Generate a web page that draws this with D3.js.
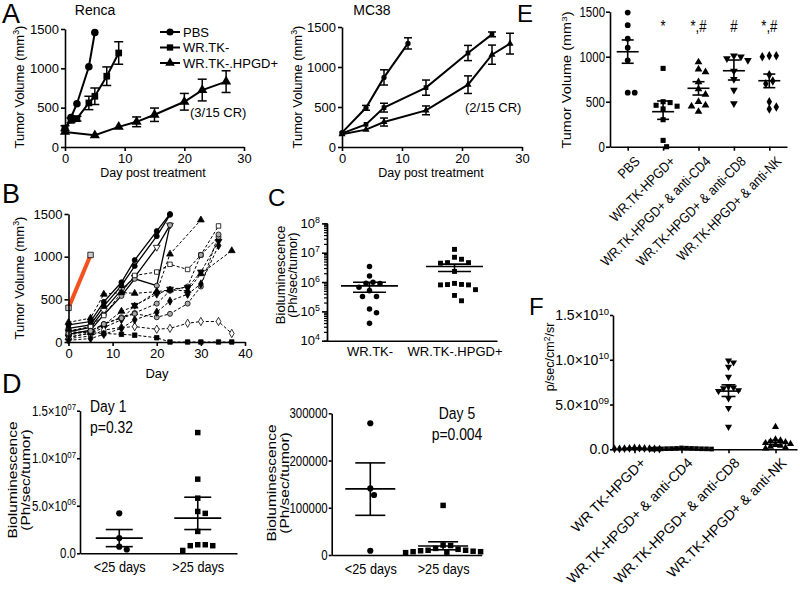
<!DOCTYPE html>
<html><head><meta charset="utf-8">
<script src="https://cdn.jsdelivr.net/npm/d3@7"></script>
<style>
body{margin:0;background:#fff;}
svg{display:block;}
</style></head><body>
<svg id="chart" width="800" height="589"></svg>
<script>
// ================= DATA =================
// Panel A – Renca
const rencaPBSDays = [0, 1, 2, 4, 5];
const rencaPBSVol  = [220, 375, 550, 1020, 1455];
const rencaPBSErr  = [0, 0, 0, 0, 0];
const rencaTKDays  = [0, 1, 2, 4, 5, 7, 9];
const rencaTKVol   = [240, 340, 360, 560, 645, 900, 1195];
const rencaTKErr   = [30, 30, 30, 85, 105, 118, 143];
const rencaHPDays  = [0, 5, 9, 12, 15, 20, 23, 27];
const rencaHPVol   = [192, 149, 256, 320, 410, 575, 724, 831];
const rencaHPErr   = [0, 0, 0, 62, 85, 106, 138, 138];
// Panel A – MC38
const mcPBSDays = [0, 4, 7, 11];
const mcPBSVol  = [180, 490, 870, 1295];
const mcPBSErr  = [0, 30, 95, 70];
const mcTKDays  = [0, 4, 7, 14, 21, 25];
const mcTKVol   = [170, 283, 492, 742, 1175, 1408];
const mcTKErr   = [0, 0, 55, 95, 95, 30];
const mcHPDays  = [0, 4, 7, 14, 21, 25, 28];
const mcHPVol   = [160, 217, 312, 458, 779, 1154, 1292];
const mcHPErr   = [0, 0, 50, 55, 110, 120, 130];
const legendLabels = ["PBS", "WR.TK-", "WR.TK-.HPGD+"];
const volTicks = [0, 500, 1000, 1500];
const dayTicksA = [0, 10, 20, 30];
const dayTicksB = [0, 10, 20, 30, 40];

// Panel B – individual tumours [day, volume]
const bRed = [[0, 400], [5, 1020]];
const bLines = [
  [[0,200],[5,240],[8,470],[12,700],[15,960],[20,1300],[23,1500]],
  [[0,160],[5,200],[8,420],[12,660],[15,890],[20,1240],[23,1490]],
  [[0,120],[5,170],[8,370],[12,610],[15,760],[20,1110],[23,1370]],
  [[0,90],[5,140],[8,320],[12,540],[15,740],[20,660],[23,1370]],
  [[0,130],[5,180],[8,310],[12,580],[15,780],[20,820],[23,910],[27,850],[30,1020],[34,1360]],
  [[0,80],[5,130],[8,210],[12,290],[15,340],[20,450],[23,600],[27,650],[30,1020],[34,1230]],
  [[0,60],[5,100],[8,170],[12,260],[15,430],[20,560],[23,620],[27,640],[30,820],[34,1180]],
  [[0,230],[5,280],[8,560],[12,580],[15,570],[20,590],[23,610],[27,600],[30,800],[37,1070]],
  [[0,50],[5,110],[8,200],[12,360],[15,420],[20,590],[23,1030],[30,1430]],
  [[0,40],[5,70],[8,140],[12,170],[15,180],[20,150],[23,160],[27,220],[30,240],[34,240],[37,100]],
  [[0,120],[5,110],[8,100],[12,90],[15,80],[20,50],[23,0],[27,0],[30,0],[34,0],[37,0]],
  [[0,100],[5,130],[8,210],[12,280],[15,330],[20,290],[23,330],[27,450],[30,650],[34,1260]],
  [[0,20],[5,40],[8,90],[12,160],[15,260],[20,350],[23,480],[27,560],[30,680],[34,1130]]
];

// Panel C – bioluminescence (log)
const cCats = ["WR.TK-", "WR.TK-.HPGD+"];
const cTK   = [3.4e6, 1.6e6, 9.8e5, 9.1e5, 8.9e5, 6.6e5, 5.1e5, 3.2e5, 3.2e5, 1.2e5, 9e4, 3.9e4];
const cHP   = [1.3e7, 7e6, 6e6, 4.6e6, 4.6e6, 4.4e6, 2.3e6, 8.3e5, 8e5, 8e5, 8.2e5, 9e5, 5.5e5, 3.5e5, 2.3e5];
const cMean = [7.4e5, 3.4e6];
const cSemLo = [4.5e5, 2.3e6];
const cSemHi = [9.8e5, 4.1e6];
const cTicks = [1e4, 1e5, 1e6, 1e7, 1e8];
const cTickLabels = ["10^4", "10^5", "10^6", "10^7", "10^8"];

// Panel D
const dCats = ["<25 days", ">25 days"];
const d1Lt = [4.2e6, 1.6e6, 0.7e6, 0.4e6];
const d1Gt = [12.7e6, 7.8e6, 5.8e6, 4.4e6, 4.2e6, 2.3e6, 0.9e6, 0.8e6, 0.8e6, 0.9e6, 0.3e6];
const d1Mean = [1.6e6, 3.7e6];
const d1SemLo = [0.7e6, 2.5e6];
const d1SemHi = [2.5e6, 5.9e6];
const d1Ticks = [0, 5e6, 1e7, 1.5e7];
const d1TickLabels = ["0.0", "5.0×10^06", "1.0×10^07", "1.5×10^07"];
const d5Lt = [279000, 141000, 127000, 9000];
const d5Gt = [105000, 21000, 20000, 14000, 12000, 10000, 9000, 8000, 7000, 7000, 6000, 5000, 10000];
const d5Mean = [140000, 19000];
const d5SemLo = [84000, 11000];
const d5SemHi = [195000, 28000];
const d5Ticks = [0, 100000, 200000, 300000];
const d5TickLabels = ["0", "100000", "200000", "300000"];

// Panel E
const eCats = ["PBS", "WR.TK-HPGD+", "WR.TK-HPGD+ & anti-CD4", "WR.TK-HPGD+ & anti-CD8", "WR.TK-HPGD+ & anti-NK"];
const ePBS = [1490, 1350, 1200, 1100, 960, 600, 600];
const eHP  = [870, 500, 490, 460, 450, 420, 300, 70, 0];
const eCD4 = [940, 860, 830, 720, 640, 580, 500, 460, 450, 390];
const eCD8 = [1010, 1000, 980, 960, 840, 750, 630, 480];
const eNK  = [1010, 1000, 1010, 800, 730, 700, 500, 440, 420];
const eMean = [1055, 389, 649, 844, 733];
const eSemLo = [927, 304, 574, 741, 656];
const eSemHi = [1186, 508, 722, 963, 807];
const eSig = ["", "*", "*,#", "#", "*,#"];

// Panel F
const fCats = ["WR TK-HPGD+", "WR.TK-HPGD+ & anti-CD4", "WR.TK-HPGD+ & anti-CD8", "WR.TK-HPGD+ & anti-NK"];
const fHP  = [1.5e8, 1.2e8, 1e8, 1e8, 8e7, 8e7, 6e7, 5e7, 5e7, 3e7];
const fCD4 = [1.5e8, 1.2e8, 1e8, 1e8, 8e7, 8e7, 7e7, 6e7, 5e7, 5e7, 4e7, 3e7, 2e7];
const fCD8 = [9.9e9, 9.7e9, 9.2e9, 8.1e9, 7.0e9, 6.9e9, 6.8e9, 6.6e9, 6.5e9, 5.7e9, 4.6e9, 2.5e9];
const fNK  = [2.5e9, 1.1e9, 1e9, 9e8, 8e8, 7e8, 6e8, 5e8, 4e8, 3e8, 2e8, 1e8];
const fMean = [1e8, 8e7, 6.5e9, 7.5e8];
const fSemLo = [7e7, 6e7, 5.9e9, 5e8];
const fSemHi = [1.3e8, 1e8, 7.2e9, 1.0e9];
const fTicks = [0, 5e9, 1e10, 1.5e10];
const fTickLabels = ["0.0", "5.0×10^09", "1.0×10^10", "1.5×10^10"];

// ================= DRAWING =================
const REG = '"Liberation Sans", Arial, Helvetica, sans-serif';
const svg = d3.select("#chart");
const SW = 1.6;
const SQ = 0.82; // horizontal squeeze of panels D and E

function rich(t, str, size) {
  const parts = str.split("^");
  t.text(null);
  parts.forEach((p, i) => {
    const ts = t.append("tspan").text(p);
    if (i % 2 === 1) ts.attr("font-size", size * 0.68).attr("dy", -size * 0.38);
    else if (i > 0) ts.attr("dy", size * 0.38);
  });
}
function squeeze(sel) {
  sel.each(function () {
    const t = d3.select(this);
    const x = +t.attr("x") || 0, y = +t.attr("y") || 0;
    const tr = t.attr("transform") || "";
    t.attr("transform", `translate(${x},${y}) scale(${SQ},1) translate(${-x},${-y}) ${tr}`);
  });
  return sel;
}
function styleAxis(g, size) {
  g.attr("font-family", REG).attr("font-size", size);
  g.selectAll(".domain, .tick line").attr("stroke", "#000").attr("stroke-width", SW);
  g.selectAll(".tick text").attr("fill", "#000").each(function () {
    const t = d3.select(this); rich(t, t.text(), size);
  });
}
function yAxis(x, scale, ticks, labels, size, tl, pad) {
  const g = svg.append("g").attr("transform", `translate(${x},0)`)
    .call(d3.axisLeft(scale).tickValues(ticks).tickSize(tl).tickSizeOuter(0).tickPadding(pad)
      .tickFormat((d, i) => labels[i]));
  styleAxis(g, size);
  return g;
}
function xAxis(y, scale, ticks, size, tl, pad) {
  let ax = d3.axisBottom(scale).tickSize(tl).tickSizeOuter(0).tickPadding(pad);
  if (ticks) ax = ax.tickValues(ticks).tickFormat(d => String(d));
  const g = svg.append("g").attr("transform", `translate(0,${y})`).call(ax);
  styleAxis(g, size);
  return g;
}
function label(x, y, str, size, opts = {}) {
  const t = svg.append("text").attr("x", x).attr("y", y)
    .attr("font-family", REG).attr("font-size", size).attr("fill", "#000")
    .attr("text-anchor", opts.anchor || "start");
  if (opts.rot) t.attr("transform", `rotate(${opts.rot},${x},${y})`).attr("dy", "0.35em");
  rich(t, str, size);
  if (opts.sq) squeeze(t);
  return t;
}
const SYM = { circle: d3.symbolCircle, square: d3.symbolSquare, triangle: d3.symbolTriangle,
  triDown: d3.symbolTriangle, diamond: d3.symbolDiamond };
function sym(g, shape, x, y, size, fill, stroke, sw) {
  g.append("path").attr("d", d3.symbol(SYM[shape], size)())
    .attr("transform", `translate(${x},${y})` + (shape === "triDown" ? " rotate(180)" : ""))
    .attr("fill", fill).attr("stroke", stroke || "none").attr("stroke-width", sw || 0);
}
function errBar(g, x, y0, y1, cap, sw) {
  g.append("line").attr("x1", x).attr("x2", x).attr("y1", y0).attr("y2", y1).attr("stroke", "#000").attr("stroke-width", sw);
  [y0, y1].forEach(yy => g.append("line").attr("x1", x - cap / 2).attr("x2", x + cap / 2)
    .attr("y1", yy).attr("y2", yy).attr("stroke", "#000").attr("stroke-width", sw));
}

// ---------- Panel letters ----------
[["A", 2, 23, 27], ["B", 2, 203, 27], ["C", 268, 206, 24], ["D", 2, 393, 27], ["E", 517, 22, 24], ["F", 529, 315, 24]]
  .forEach(([s, x, y, fs]) => label(x, y, s, fs));

// ---------- Panel A ----------
function growth(xr, yr, series, symSize, cap) {
  const x = d3.scaleLinear([0, 30], xr), y = d3.scaleLinear([0, 1500], yr);
  const g = svg.append("g");
  const line = d3.line().x(d => x(d[0])).y(d => y(d[1]));
  series.forEach(s => g.append("path").datum(s.days.map((d, i) => [d, s.vol[i]]))
    .attr("d", line).attr("fill", "none").attr("stroke", "#000").attr("stroke-width", 2));
  series.forEach(s => s.days.forEach((d, i) => {
    if (s.err[i] > 0) errBar(g, x(d), y(s.vol[i] - s.err[i]), y(s.vol[i] + s.err[i]), cap, 1.5);
  }));
  series.forEach(s => s.days.forEach((d, i) => sym(g, s.shape, x(d), y(s.vol[i]), symSize, "#000")));
  xAxis(yr[0], x, dayTicksA, 13, 4, 3);
  yAxis(xr[0], y, volTicks, volTicks.map(String), 13, 4, 2);
}
growth([65, 244], [147, 29], [
  { days: rencaPBSDays, vol: rencaPBSVol, err: rencaPBSErr, shape: "circle" },
  { days: rencaTKDays, vol: rencaTKVol, err: rencaTKErr, shape: "square" },
  { days: rencaHPDays, vol: rencaHPVol, err: rencaHPErr, shape: "triangle" }], 45, 9);
growth([342, 522], [147, 27], [
  { days: mcPBSDays, vol: mcPBSVol, err: mcPBSErr, shape: "circle" },
  { days: mcTKDays, vol: mcTKVol, err: mcTKErr, shape: "square" },
  { days: mcHPDays, vol: mcHPVol, err: mcHPErr, shape: "triangle" }], 22, 8);

label(95, 15, "Renca", 14, { anchor: "middle" });
label(372, 15, "MC38", 14, { anchor: "middle" });
label(190, 117, "(3/15 CR)", 13);
label(465, 112, "(2/15 CR)", 13);
label(153, 177, "Day post treatment", 12.5, { anchor: "middle" });
label(431, 177, "Day post treatment", 12.5, { anchor: "middle" });
label(19, 87, "Tumor Volume (mm^3^)", 13, { anchor: "middle", rot: -90 });
label(297, 87, "Tumor Volume (mm^3^)", 13, { anchor: "middle", rot: -90 });
// legend
const legShapes = ["circle", "square", "triangle"];
const legG = svg.append("g");
legendLabels.forEach((t, i) => {
  const yy = 32 + i * 15.5;
  legG.append("line").attr("x1", 160).attr("x2", 180).attr("y1", yy).attr("y2", yy).attr("stroke", "#000").attr("stroke-width", 2);
  sym(legG, legShapes[i], 170, yy, 40, "#000");
  label(183, yy + 4.5, t, 13);
});

// ---------- Panel B ----------
{
  const x = d3.scaleLinear([0, 40], [68.5, 245]), y = d3.scaleLinear([0, 1500], [342, 214]);
  const g = svg.append("g");
  const line = d3.line().x(d => x(d[0])).y(d => y(d[1]));
  const bStyle = [
    { dash: null, shape: "circle", fill: "#000" },
    { dash: null, shape: "circle", fill: "#000" },
    { dash: null, shape: "triDown", fill: "#fff" },
    { dash: null, shape: "circle", fill: "#aaa" },
    { dash: "3,2", shape: "square", fill: "#fff" },
    { dash: "3,2", shape: "circle", fill: "#aaa" },
    { dash: "3,2", shape: "triDown", fill: "#000" },
    { dash: "3,2", shape: "triangle", fill: "#000" },
    { dash: "3,2", shape: "triangle", fill: "#000" },
    { dash: "3,2", shape: "diamond", fill: "#fff" },
    { dash: "3,2", shape: "square", fill: "#000" },
    { dash: "3,2", shape: "circle", fill: "#aaa" },
    { dash: "3,2", shape: "diamond", fill: "#000" }
  ];
  bLines.forEach((ln, i) => g.append("path").datum(ln).attr("d", line).attr("fill", "none")
    .attr("stroke", "#000").attr("stroke-width", bStyle[i].dash ? 1 : 1.3)
    .attr("stroke-dasharray", bStyle[i].dash));
  bLines.forEach((ln, i) => ln.forEach(p => sym(g, bStyle[i].shape, x(p[0]), y(p[1]), 20, bStyle[i].fill, "#000", 0.8)));
  g.append("path").datum(bRed).attr("d", line).attr("stroke", "#f4511e").attr("stroke-width", 4).attr("fill", "none");
  bRed.forEach(p => sym(g, "square", x(p[0]), y(p[1]), 30, "#ccc", "#000", 0.8));
  xAxis(342, x, dayTicksB, 13, 4, 3);
  yAxis(68.5, y, volTicks, volTicks.map(String), 13, 4, 2);
  label(157, 378, "Day", 13, { anchor: "middle" });
  label(19, 278, "Tumor Volume (mm^3^)", 13, { anchor: "middle", rot: -90 });
}

// ---------- dot-plot helper ----------
function swarm(vals, y, cx, d) {
  const pts = vals.map(v => ({ v, py: y(v) })).sort((a, b) => a.py - b.py);
  const placed = [];
  for (const p of pts) {
    let px = cx;
    for (let k = 0; k < 60; k++) {
      const off = k === 0 ? 0 : (k % 2 ? 1 : -1) * Math.ceil(k / 2) * d * 0.5;
      const cand = cx + off;
      if (placed.every(q => Math.hypot(q.px - cand, q.py - p.py) >= d)) { px = cand; break; }
    }
    p.px = px; placed.push(p);
  }
  return placed;
}
function dots(xs, y, groups, shapes, symSize, d, mean, lo, hi, mw, cw) {
  const g = svg.append("g");
  groups.forEach((vals, i) => {
    swarm(vals, y, xs[i], d).forEach(p => sym(g, shapes[i], p.px, p.py, symSize, "#000"));
    g.append("line").attr("x1", xs[i] - mw / 2).attr("x2", xs[i] + mw / 2)
      .attr("y1", y(mean[i])).attr("y2", y(mean[i])).attr("stroke", "#000").attr("stroke-width", 1.6);
    errBar(g, xs[i], y(lo[i]), y(hi[i]), cw, 1.6);
  });
}

// ---------- Panel C ----------
{
  const y = d3.scaleLog([1e4, 1e8], [340.7, 223.4]);
  const x = d3.scalePoint(cCats, [327, 497]).padding(0.5);
  const minor = [];
  for (let e = 4; e < 8; e++) for (let m = 2; m <= 9; m++) minor.push(m * Math.pow(10, e));
  const gm = svg.append("g").attr("transform", "translate(327,0)")
    .call(d3.axisLeft(y).tickValues(minor).tickSize(3).tickFormat(""));
  gm.selectAll(".domain, .tick line").attr("stroke", "#000").attr("stroke-width", 1.2);
  yAxis(327, y, cTicks, cTickLabels, 13, 5, 2);
  xAxis(340.7, x, null, 13, 0, 6);
  dots(cCats.map(c => x(c)), y, [cTK, cHP], ["circle", "square"], 24, 7, cMean, cSemLo, cSemHi, 57, 33);
  label(280, 275, "Bioluminescence", 13, { anchor: "middle", rot: -90 });
  label(292, 275, "(Ph/sec/tumor)", 13, { anchor: "middle", rot: -90 });
}

// ---------- Panel D ----------
{
  const y = d3.scaleLinear([0, 1.5e7], [553.3, 410.7]);
  const x = d3.scalePoint(dCats, [80, 237]).padding(0.5);
  squeeze(yAxis(80, y, d1Ticks, d1TickLabels, 14, 3, 1).selectAll(".tick text"));
  squeeze(xAxis(553.3, x, null, 15.5, 0, 8).selectAll(".tick text"));
  dots(dCats.map(c => x(c)), y, [d1Lt, d1Gt], ["circle", "square"], 30, 7.5, d1Mean, d1SemLo, d1SemHi, 47, 27);
  label(13, 480, "Bioluminescence", 15.5, { anchor: "middle", rot: -90, sq: true });
  label(25.5, 480, "(Ph/sec/tumor)", 15.5, { anchor: "middle", rot: -90, sq: true });
  label(90, 412, "Day 1", 17, { sq: true });
  label(90, 433, "p=0.32", 17, { sq: true });
}
{
  const y = d3.scaleLinear([0, 300000], [555, 413.3]);
  const x = d3.scalePoint(dCats, [331.7, 481.7]).padding(0.53);
  squeeze(yAxis(331.7, y, d5Ticks, d5TickLabels, 14, 3, 1).selectAll(".tick text"));
  squeeze(xAxis(555, x, null, 15.5, 0, 8).selectAll(".tick text"));
  dots(dCats.map(c => x(c)), y, [d5Lt, d5Gt], ["circle", "square"], 30, 7.5, d5Mean, d5SemLo, d5SemHi, 50, 30);
  label(272, 483, "Bioluminescence", 15.5, { anchor: "middle", rot: -90, sq: true });
  label(285, 483, "(Ph/sec/tumor)", 15.5, { anchor: "middle", rot: -90, sq: true });
  label(457, 419, "Day 5", 17, { anchor: "middle", sq: true });
  label(457, 440, "p=0.004", 17, { anchor: "middle", sq: true });
}

// ---------- Panel E ----------
{
  const y = d3.scaleLinear([0, 1500], [146.7, 11.7]);
  const x = d3.scalePoint(eCats, [610, 787]).padding(0.5);
  squeeze(yAxis(610, y, volTicks, volTicks.map(String), 14, 4, 1).selectAll(".tick text"));
  const gx = xAxis(146.7, x, null, 14, 4, 0);
  gx.selectAll(".tick text").attr("text-anchor", "end").attr("x", 0).attr("y", 0).attr("dy", "0.35em")
    .attr("transform", `translate(9,12) rotate(-45) scale(${SQ + 0.05},1)`);
  const xs = eCats.map(c => x(c));
  dots(xs, y, [ePBS, eHP, eCD4, eCD8, eNK], ["circle", "square", "triangle", "triDown", "diamond"], 26, 7,
    eMean, eSemLo, eSemHi, 22, 12);
  eSig.forEach((s, i) => { if (s) label(xs[i], 32, s, 16, { anchor: "middle", sq: true }); });
  label(567, 80, "Tumor Volume (mm^3^)", 14.5, { anchor: "middle", rot: -90, sq: true });
}

// ---------- Panel F ----------
{
  const y = d3.scaleLinear([0, 1.5e10], [449.3, 315]);
  const x = d3.scalePoint(fCats, [613, 797]).padding(0.457);
  yAxis(613, y, fTicks, fTickLabels, 14, 3, 1);
  const gx = xAxis(449.3, x, null, 14, 4, 0);
  gx.selectAll(".tick text").attr("text-anchor", "end").attr("x", 0).attr("y", 0).attr("dy", "0.35em")
    .attr("transform", "translate(8,11) rotate(-45)");
  dots(fCats.map(c => x(c)), y, [fHP, fCD4, fCD8, fNK], ["diamond", "square", "triDown", "triangle"], 22, 5,
    fMean, fSemLo, fSemHi, 24, 14);
  label(550, 357, "p/sec/cm^2^/sr", 12.5, { anchor: "middle", rot: -90 });
}
</script>
</body></html>
